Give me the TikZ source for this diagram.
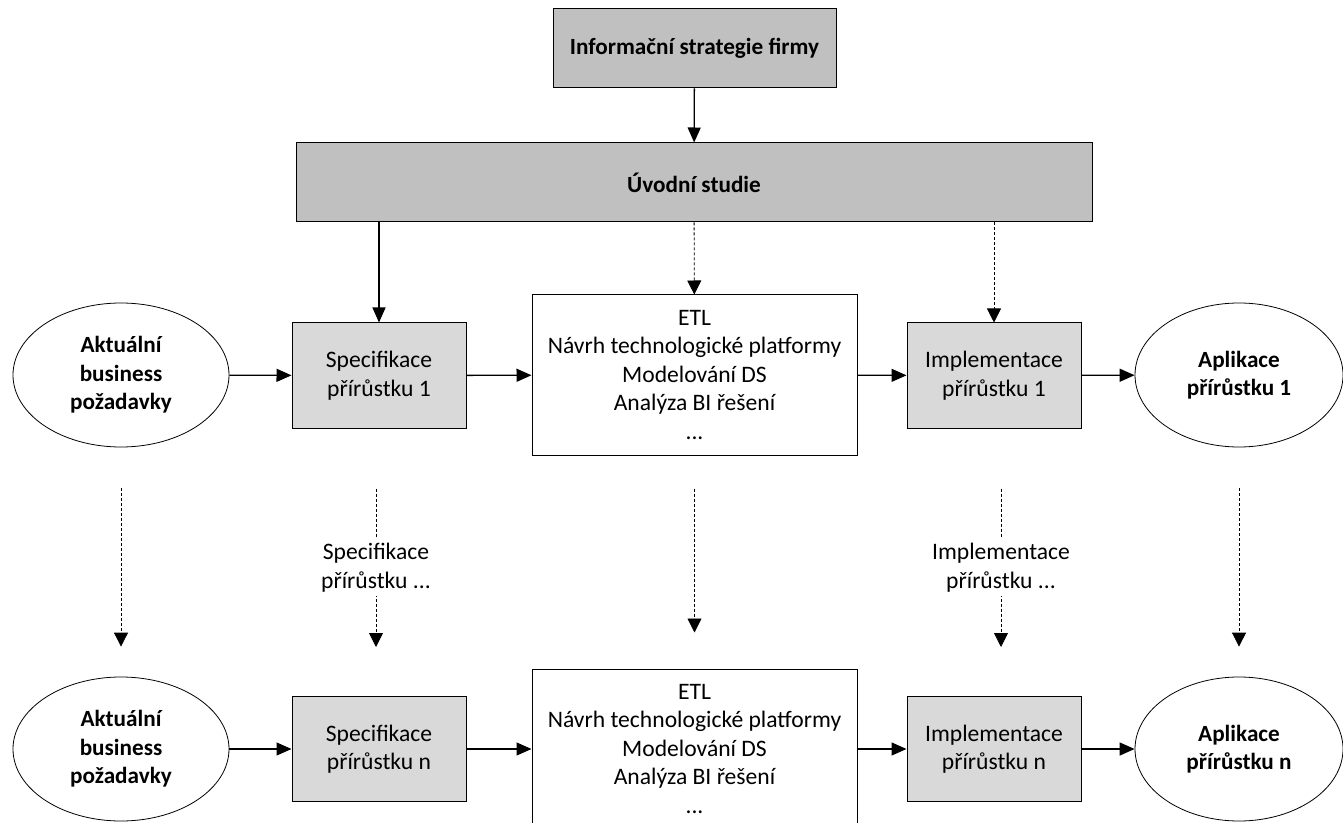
\documentclass[tikz,border=0pt]{standalone}
\usepackage{fontspec}
\setmainfont{Carlito}
\usetikzlibrary{shapes.geometric,arrows.meta}
\definecolor{boxdark}{HTML}{C0C0C0}
\definecolor{boxlight}{HTML}{D9D9D9}

\begin{document}
\begin{tikzpicture}[x=0.5pt,y=-0.5pt,
  font=\fontsize{11.8}{14.25}\selectfont,
  darkbox/.style={rectangle,draw,line width=0.5pt,fill=boxdark,inner sep=0pt,align=center,font=\fontsize{11.6}{14.25}\selectfont\bfseries},
  lightbox/.style={rectangle,draw,line width=0.5pt,fill=boxlight,inner sep=0pt,align=center,minimum width=87pt,minimum height=52.5pt},
  etlbox/.style={rectangle,draw,line width=0.5pt,fill=white,inner sep=0pt,align=center,minimum width=162.5pt,minimum height=80pt},
  goal/.style={ellipse,draw,line width=0.4pt,inner sep=0pt,align=center,minimum height=72pt,font=\fontsize{11.6}{14.25}\selectfont\bfseries},
  arr/.style={line width=0.65pt,-{Triangle[length=7.5pt,width=6.5pt]}},
  dotarr/.style={line width=0.4pt,dash pattern=on 1.5pt off 1pt,-{Triangle[length=7pt,width=7pt]}},
  gaplabel/.style={fill=white,inner sep=2pt,align=center}]
\useasboundingbox (0,0) rectangle (1343,823);

% top
\node[darkbox,minimum width=141.5pt,minimum height=39.5pt] at (694.5,48.5) (strat) {Informační strategie firmy};
\node[darkbox,minimum width=398pt,minimum height=39.5pt] at (694,182.5) (uvod) {Úvodní studie};

% first increment
\node[goal,minimum width=108pt] at (121,375) (poz1) {Aktuální\\business\\požadavky};
\node[lightbox] at (379,375.5) (spec1) {Specifikace\\přírůstku 1};
\node[etlbox] at (694.5,375) (etl1) {ETL\\Návrh technologické platformy\\Modelování DS\\Analýza BI řešení\\...};
\node[lightbox] at (994,375.5) (impl1) {Implementace\\přírůstku 1};
\node[goal,minimum width=104pt] at (1239,375) (apl1) {Aplikace\\přírůstku 1};

% n-th increment
\node[goal,minimum width=108pt] at (121,749) (poz2) {Aktuální\\business\\požadavky};
\node[lightbox] at (379,749) (spec2) {Specifikace\\přírůstku n};
\node[etlbox] at (694.5,749) (etl2) {ETL\\Návrh technologické platformy\\Modelování DS\\Analýza BI řešení\\...};
\node[lightbox] at (994,749) (impl2) {Implementace\\přírůstku n};
\node[goal,minimum width=104pt] at (1239,749) (apl2) {Aplikace\\přírůstku n};

\draw[arr] (strat) -- (uvod);
\draw[arr] (uvod.south -| spec1.north) -- (spec1.north);
\draw[dotarr] (uvod) -- (etl1);
\draw[dotarr] (uvod.south -| impl1.north) -- (impl1.north);

\draw[arr] (poz1) -- (spec1);
\draw[arr] (spec1) -- (etl1);
\draw[arr] (etl1) -- (impl1);
\draw[arr] (impl1) -- (apl1);

\draw[arr] (poz2) -- (spec2);
\draw[arr] (spec2) -- (etl2);
\draw[arr] (etl2) -- (impl2);
\draw[arr] (impl2) -- (apl2);

\draw[dotarr,shorten <=20.5pt,shorten >=15pt] (poz1) -- (poz2);
\draw[dotarr,shorten <=30pt,shorten >=24.5pt] ([xshift=-1.5pt]spec1.south) -- node[gaplabel,pos=.52] {Specifikace\\přírůstku ...} ([xshift=-1.5pt]spec2.north);
\draw[dotarr,shorten <=16.5pt,shorten >=18pt] (etl1) -- (etl2);
\draw[dotarr,shorten <=30pt,shorten >=24.5pt] ([xshift=3.5pt]impl1.south) -- node[gaplabel,pos=.52] {Implementace\\přírůstku ...} ([xshift=3.5pt]impl2.north);
\draw[dotarr,shorten <=20.5pt,shorten >=15pt] (apl1) -- (apl2);
\end{tikzpicture}
\end{document}
